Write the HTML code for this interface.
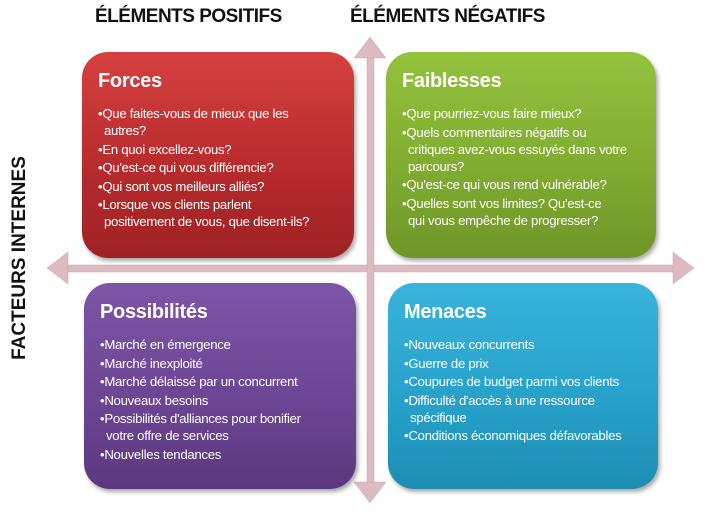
<!DOCTYPE html>
<html><head><meta charset="utf-8"><style>
body{margin:0;width:709px;height:531px;background:#fff;position:relative;overflow:hidden;font-family:"Liberation Sans",sans-serif}
.h{position:absolute;top:6px;font-weight:bold;font-size:19px;color:#111;letter-spacing:-0.5px}
.box{position:absolute;border-radius:26px;color:#fff;box-shadow:2px 3px 4px rgba(0,0,0,.35);box-sizing:border-box;padding:18px 10px 0 16px}
.box h2{margin:0 0 12px 0;font-size:20px;font-weight:bold;letter-spacing:-0.3px}
.box ul{margin:0;padding:0;list-style:none;font-size:13.2px;line-height:17px;letter-spacing:-0.3px;white-space:nowrap}
.box li{margin-bottom:1.5px;padding-left:6px;text-indent:-6px}
.box li:before{content:"•";}
</style></head><body>
<div class="h" style="left:95px">ÉLÉMENTS POSITIFS</div>
<div class="h" style="left:350px">ÉLÉMENTS NÉGATIFS</div>
<div style="position:absolute;left:20px;top:258px;transform:translate(-50%,-50%) rotate(-90deg);font-weight:bold;font-size:19px;white-space:nowrap;color:#111">FACTEURS INTERNES</div>
<svg width="709" height="531" style="position:absolute;left:0;top:0">
<g fill="#dcbcc0" stroke="#c9a3a8" stroke-width="0.5">
<rect x="54" y="265" width="632" height="7"/>
<polygon points="47,268 68,252 68,284"/>
<polygon points="694,268 673,252 673,284"/>
<rect x="367" y="52" width="7" height="438"/>
<polygon points="370,37 354,58 386,58"/>
<polygon points="370,503 354,482 386,482"/>
</g></svg>
<div class="box" style="left:82px;top:52px;width:272px;height:206px;background:linear-gradient(#d6403f,#b52a2c 60%,#9e2224)">
<h2>Forces</h2><ul>
<li>Que faites-vous de mieux que les<br>autres?</li><li>En quoi excellez-vous?</li><li>Qu'est-ce qui vous différencie?</li><li>Qui sont vos meilleurs alliés?</li><li>Lorsque vos clients parlent<br>positivement de vous, que disent-ils?</li></ul></div>
<div class="box" style="left:386px;top:52px;width:270px;height:206px;background:linear-gradient(#94c23e,#7faa30 60%,#6e9628)">
<h2>Faiblesses</h2><ul>
<li>Que pourriez-vous faire mieux?</li><li>Quels commentaires négatifs ou<br>critiques avez-vous essuyés dans votre<br>parcours?</li><li>Qu'est-ce qui vous rend vulnérable?</li><li>Quelles sont vos limites? Qu'est-ce<br>qui vous empêche de progresser?</li></ul></div>
<div class="box" style="left:84px;top:283px;width:272px;height:206px;background:linear-gradient(#7d55a8,#6b4492 60%,#5b387e)">
<h2>Possibilités</h2><ul>
<li>Marché en émergence</li><li>Marché inexploité</li><li>Marché délaissé par un concurrent</li><li>Nouveaux besoins</li><li>Possibilités d'alliances pour bonifier<br>votre offre de services</li><li>Nouvelles tendances</li></ul></div>
<div class="box" style="left:388px;top:283px;width:270px;height:206px;background:linear-gradient(#38b4dc,#26a0c8 60%,#1d8db2)">
<h2>Menaces</h2><ul>
<li>Nouveaux concurrents</li><li>Guerre de prix</li><li>Coupures de budget parmi vos clients</li><li>Difficulté d'accès à une ressource<br>spécifique</li><li>Conditions économiques défavorables</li></ul></div>
</body></html>
